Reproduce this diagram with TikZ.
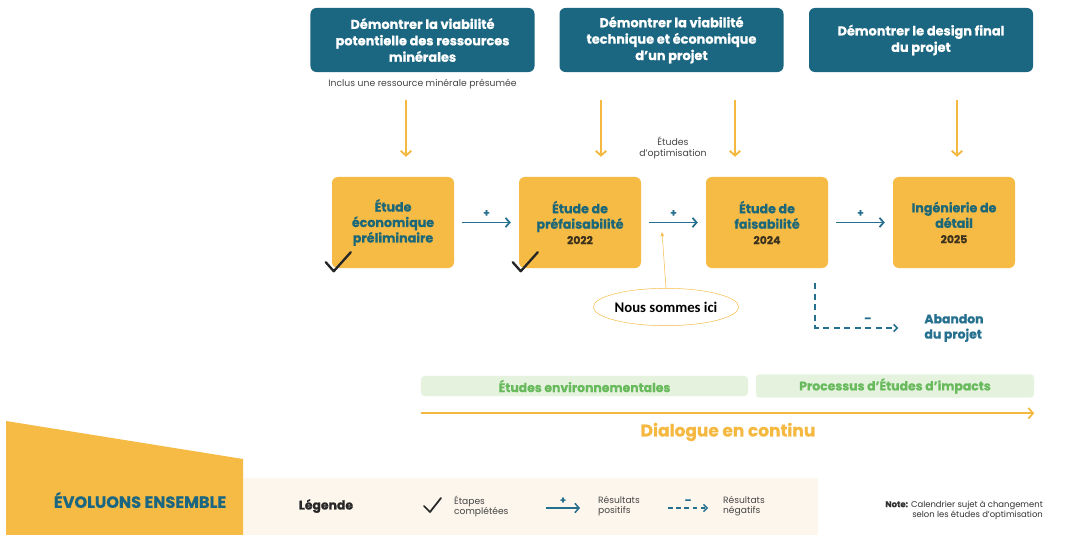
\documentclass[tikz,border=0pt]{standalone}
\usepackage{fontspec}
\setmainfont{Poppins}[BoldFeatures={FakeBold=0.7}]
\newfontfamily\carlito{Carlito}
\usepackage{tikz}
\usetikzlibrary{calc,arrows.meta,positioning,shapes.geometric}

\definecolor{tealbox}{RGB}{27,102,128}
\definecolor{stageorange}{RGB}{246,187,69}
\definecolor{arrowyellow}{RGB}{245,185,66}
\definecolor{arrowblue}{RGB}{37,112,142}
\definecolor{stagetext}{RGB}{29,104,120}
\definecolor{yeartext}{RGB}{60,50,30}
\definecolor{greentext}{RGB}{104,186,92}
\definecolor{greenfill}{RGB}{228,242,222}
\definecolor{creamband}{RGB}{253,246,236}
\definecolor{greytext}{RGB}{70,70,70}

\begin{document}
\begin{tikzpicture}[x=0.03cm, y=-0.03cm,
		topbox/.style={fill=tealbox, rounded corners=5pt, text=white, font=\fontsize{11}{14}\selectfont\bfseries, align=center, minimum width=6.72cm, minimum height=1.92cm},
		stagebox/.style={fill=stageorange, rounded corners=5pt, text=stagetext, font=\fontsize{10.8}{13.2}\selectfont\bfseries, align=center, minimum width=3.66cm, minimum height=2.73cm},
		downarrow/.style={draw=arrowyellow, line width=1.6pt, -{Straight Barb[length=4pt, width=9pt]}},
		plusarrow/.style={draw=arrowblue, line width=1.5pt, -{Straight Barb[length=3.5pt, width=8pt]}, shorten <=0.24cm, shorten >=0.24cm},
		minusarrow/.style={draw=arrowblue, line width=1.3pt, dash pattern=on 5pt off 4pt, -{Straight Barb[length=3pt, width=6pt]}},
		greenbar/.style={fill=greenfill, rounded corners=3pt, text=greentext, font=\fontsize{10.6}{12}\selectfont\bfseries, minimum height=0.6cm},
		smalltext/.style={text=greytext, font=\fontsize{7.8}{8.6}\selectfont, align=left},
		check/.style={draw=black!85, line width=2pt, line join=round, line cap=round}]

		\useasboundingbox[fill=white] (0,0) rectangle (1082,535);

		% Objectives
		\node[topbox] (top1) at (422.5,40) {Démontrer la viabilité\\potentielle des ressources\\minérales};
		\node[topbox] (top2) at (671.5,40) {Démontrer la viabilité\\technique et économique\\d'un projet};
		\node[topbox] (top3) at (921,40) {Démontrer le design final\\du projet};
		\node[smalltext, font=\fontsize{7.9}{9}\selectfont] (inclus) at (422.5,84) {Inclus une ressource minérale présumée};
		\node[smalltext, align=center, font=\fontsize{8}{10}\selectfont] (optim) at (673,148) {Études\\d'optimisation};

		% Stages
		\node[stagebox] (etude1) at (393,222.5) {Étude\\économique\\préliminaire};
		\node[stagebox] (etude2) at (580,222.5) {Étude de\\préfaisabilité\\{\color{yeartext}\fontsize{9.3}{12}\selectfont 2022}};
		\node[stagebox] (etude3) at (767,222.5) {Étude de\\faisabilité\\{\color{yeartext}\fontsize{9.3}{12}\selectfont 2024}};
		\node[stagebox] (etude4) at (954,222.5) {Ingénierie de\\détail\\{\color{yeartext}\fontsize{9.3}{12}\selectfont 2025}};

		% Down arrows
		\draw[downarrow] (etude1.north) ++(13,-77) -- ++(0,57);
		\draw[downarrow] (etude2.north) ++(21,-77) -- ++(0,57);
		\draw[downarrow] (etude3.north) ++(-32,-77) -- ++(0,57);
		\draw[downarrow] (etude4.north) ++(3,-77) -- ++(0,57);

		% Positive results
		\draw[plusarrow] (etude1) -- (etude2) node[midway, above=1pt, text=arrowblue, font=\small\bfseries] {+};
		\draw[plusarrow] (etude2) -- (etude3) node[midway, above=1pt, text=arrowblue, font=\small\bfseries] (plus2) {+};
		\draw[plusarrow] (etude3) -- (etude4) node[midway, above=1pt, text=arrowblue, font=\small\bfseries] {+};

		% Completed steps
		\draw[check] (etude1.south west) ++(-6,-6) -- ++(8,9) -- ++(17,-19);
		\draw[check] (etude2.south west) ++(-6,-6) -- ++(8,9) -- ++(17,-19);

		% We are here
		\node[ellipse, draw=arrowyellow, fill=white, thin, inner sep=0pt, minimum width=3.9cm, minimum height=1.12cm, font=\carlito\fontsize{12.6}{14}\selectfont\bfseries] (ici) at (666,307) {Nous sommes ici};
		\coordinate (here) at (662,232);
		\draw[arrowyellow, thin, -{Stealth[length=4pt, width=3pt]}] (ici.north) -- (here);

		% Negative result
		\node[text=arrowblue, font=\fontsize{10.6}{13}\selectfont\bfseries, align=left] (abandon) at (954,328) {Abandon\\du projet};
		\draw[minusarrow, shorten >=0.66cm] (etude3.south east) ++(-13,15) |- (abandon.west) node[pos=0.75, above=1pt, text=arrowblue, font=\small\bfseries] {--};

		% Environmental studies
		\node[greenbar, minimum width=9.81cm] (env) at (584.5,386) {Études environnementales};
		\node[greenbar, minimum width=8.34cm] (impact) at (895,386) {Processus d'Études d'impacts};
		\draw[arrowyellow, line width=1.5pt, -{Straight Barb[length=4pt, width=9pt]}] (env.south west) ++(0,17) coordinate (d0) -- (d0 -| impact.east);
		\node[text=arrowyellow, font=\fontsize{14.5}{16}\selectfont\bfseries] (dialogue) at (728,432) {Dialogue en continu};

		% Bottom band
		\fill[creamband] (243,478) rectangle (818,535);
		\fill[stageorange] (6,421) -- (243,459) -- (243,535) -- (6,535) -- cycle;
		\node[text=tealbox, font=\fontsize{13.8}{15}\selectfont\bfseries] (evoluons) at (140,500) {ÉVOLUONS ENSEMBLE};

		% Legend
		\node[font=\fontsize{10.6}{12}\selectfont\bfseries, text=black!85] (legende) at (326,506) {Légende};
		\coordinate (chk) at (424,506);
		\draw[check, line width=1.5pt] (chk) -- ++(6,6) -- ++(11,-14);
		\node[smalltext, anchor=west] (etapes) at (450,506) {Étapes\\complétées};
		\coordinate (p0) at (546,508);
		\draw[plusarrow, line width=1.3pt, shorten <=0pt, shorten >=0pt] (p0) -- ++(34,0) node[midway, above=0pt, text=arrowblue, font=\footnotesize\bfseries] {+};
		\node[smalltext, anchor=west] (positifs) at (594,506) {Résultats\\positifs};
		\coordinate (m0) at (668,508);
		\draw[minusarrow, line width=1.2pt, dash pattern=on 4pt off 3pt] (m0) -- ++(40,0) node[midway, above=0pt, text=arrowblue, font=\footnotesize\bfseries] {--};
		\node[smalltext, anchor=west] (negatifs) at (719,506) {Résultats\\négatifs};
		\node[smalltext, align=right, anchor=east, text=black!80, font=\fontsize{7.2}{8.6}\selectfont] (note) at (1047,510) {\textbf{Note:} Calendrier sujet à changement\\selon les études d'optimisation};
	\end{tikzpicture}
\end{document}
